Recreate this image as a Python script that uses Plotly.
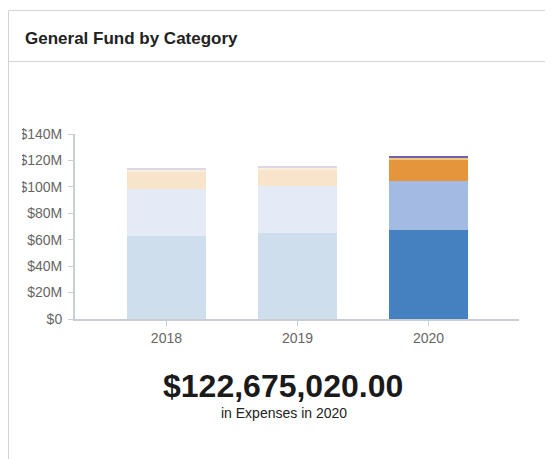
import plotly.graph_objects as go

# ---- data ----
years = ["2018", "2019", "2020"]
personnel = [62.8e6, 65.1e6, 67.0e6]
operating = [35.6e6, 35.6e6, 37.4e6]
services = [12.9e6, 12.1e6, 16.0e6]
supplies = [1.5e6, 1.5e6, 1.5e6]
transfers = [0.8e6, 1.5e6, 0.775e6]
series_names = ["Personnel", "Operating", "Services", "Supplies", "Transfers"]
y_tickvals = [0, 20e6, 40e6, 60e6, 80e6, 100e6, 120e6, 140e6]
y_ticktext = ["$0", "$20M", "$40M", "$60M", "$80M", "$100M", "$120M", "$140M"]
headline = "$122,675,020.00"
subline = "in Expenses in 2020"
title = "General Fund by Category"

# colours: faded for past years, full for selected year
colors = [
    ["#CFDEEC", "#CFDEEC", "#4581C1"],
    ["#E4EBF6", "#E4EBF6", "#A3BBE3"],
    ["#F8E3CB", "#F8E3CB", "#E5963A"],
    ["#FBEFDC", "#FBEFDC", "#EFC682"],
    ["#DCD7E9", "#DCD7E9", "#7461AE"],
]

OFF = 8  # page body margin
W, H = 553, 459
L, R, T, B = 75 - OFF, 519 - OFF, 134 - OFF, 319 - OFF


def px(x):
    return (x - OFF - L) / (R - L)


def py(y):
    return (B - (y - OFF)) / (B - T)


FONT = "Liberation Sans, Arial, sans-serif"

fig = go.Figure()
for name, vals, col in zip(series_names, [personnel, operating, services, supplies, transfers], colors):
    fig.add_trace(go.Bar(x=years, y=vals, name=name, marker=dict(color=col, line=dict(width=0)),
                         width=0.6, hoverinfo="skip"))

shapes = [
    # card borders
    dict(type="line", xref="paper", yref="paper", x0=px(8.5), x1=px(570), y0=py(10.5), y1=py(10.5),
         line=dict(color="#D3D3D3", width=1)),
    dict(type="line", xref="paper", yref="paper", x0=px(8.5), x1=px(570), y0=py(61.5), y1=py(61.5),
         line=dict(color="#D3D3D3", width=1)),
    dict(type="line", xref="paper", yref="paper", x0=px(8.5), x1=px(8.5), y0=py(10.5), y1=py(480),
         line=dict(color="#D3D3D3", width=1)),
    # clipping of the chart area on the left
    dict(type="rect", xref="paper", yref="paper", x0=px(9.2), x1=px(22), y0=py(120), y1=py(330),
         fillcolor="white", line=dict(width=0), layer="above"),
]

annotations = [
    dict(text="<b>" + title + "</b>", xref="paper", yref="paper", x=px(22.5), y=py(39),
         xanchor="left", yanchor="middle", showarrow=False,
         font=dict(family=FONT, size=17, color="#222222")),
    dict(text="<b>" + headline + "</b>", xref="paper", yref="paper", x=px(283), y=py(386),
         xanchor="center", yanchor="middle", showarrow=False,
         font=dict(family=FONT, size=32, color="#1a1a1a")),
    dict(text=subline, xref="paper", yref="paper", x=px(284), y=py(413),
         xanchor="center", yanchor="middle", showarrow=False,
         font=dict(family=FONT, size=14, color="#222222")),
]

fig.update_layout(
    width=W, height=H,
    margin=dict(l=L, r=W - R, t=T, b=H - B, pad=0),
    barmode="stack",
    showlegend=False,
    plot_bgcolor="white", paper_bgcolor="white",
    font=dict(family=FONT, size=14, color="#666666"),
    shapes=shapes, annotations=annotations,
    xaxis=dict(type="category", range=[-0.698, 2.691], showgrid=False, zeroline=False,
               showline=True, linecolor="#C9CED6", linewidth=2,
               ticks="outside", ticklen=5, tickcolor="#C9CED6", tickwidth=1,
               tickfont=dict(size=14, color="#666666"), fixedrange=True),
    yaxis=dict(range=[0, 140e6], tickvals=y_tickvals, ticktext=y_ticktext, showgrid=False,
               zeroline=False, showline=True, linecolor="#C9CED6", linewidth=2,
               ticks="outside", ticklen=5, tickcolor="#C9CED6", tickwidth=1,
               ticklabelstandoff=3,
               tickfont=dict(size=14, color="#666666"), fixedrange=True),
)

fig.write_html("out.html", config={"displayModeBar": False})
